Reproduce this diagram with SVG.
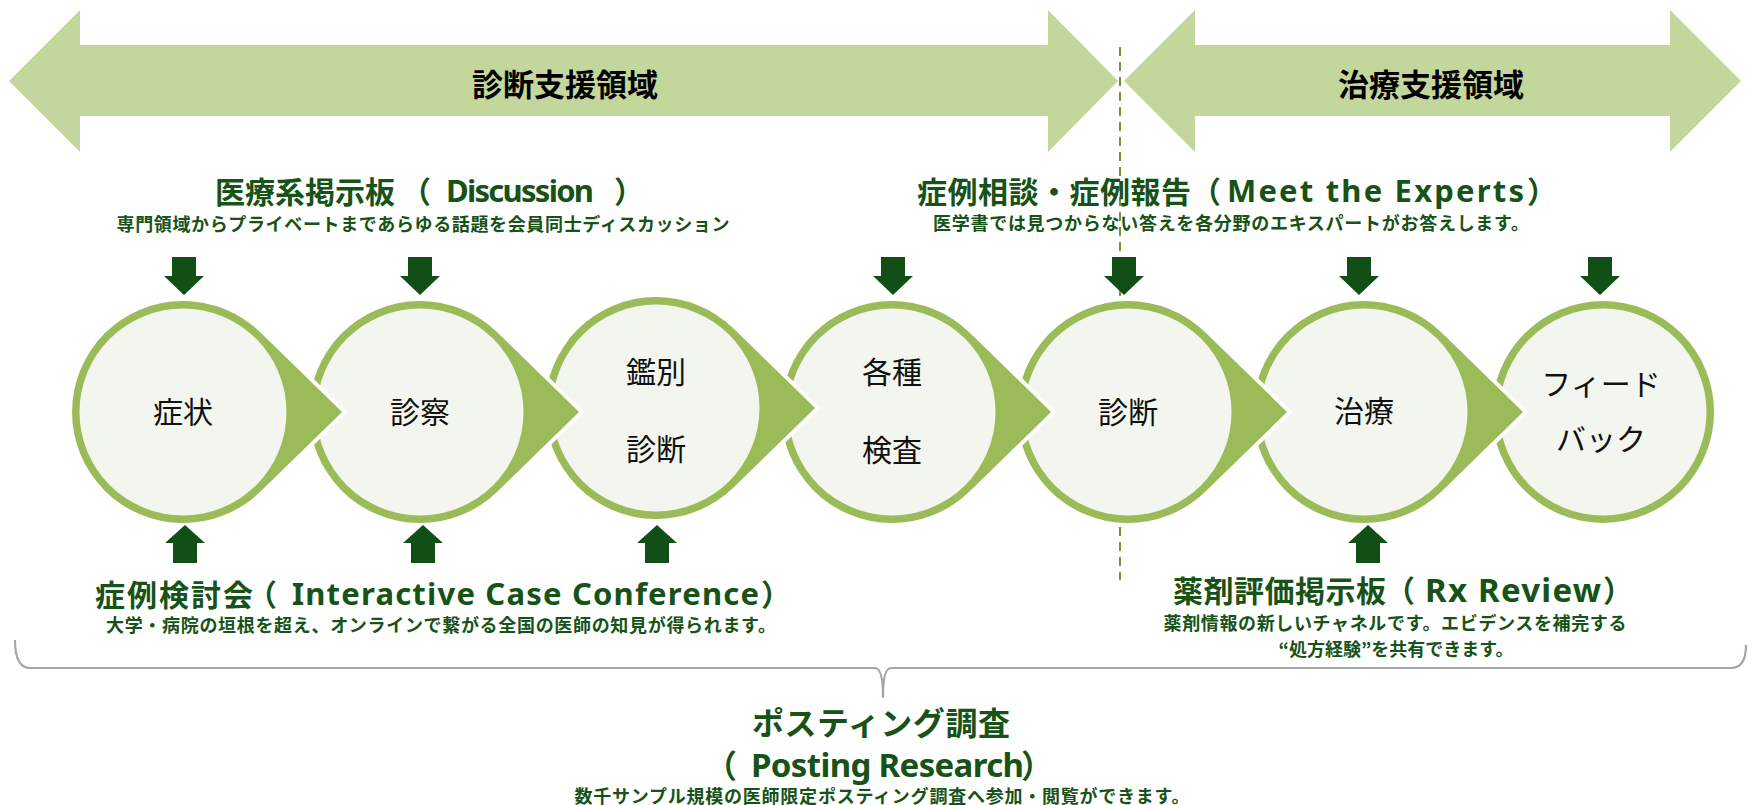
<svg xmlns="http://www.w3.org/2000/svg" width="1748" height="805" viewBox="0 0 1748 805">
<style>
.band{fill:#C3D69B}
.bandtxt{font-family:"Noto Sans CJK JP","Noto Sans",sans-serif;font-weight:bold;font-size:31px;fill:#000;text-anchor:middle;dominant-baseline:central}
.drop{fill:#9BBB59;stroke:#FFFFFF;stroke-width:8;paint-order:stroke;stroke-linejoin:miter}
.ring{fill:#9BBB59}
.inner{fill:#F3F6EE}
.ctxt{font-family:"Noto Sans CJK JP","Noto Sans",sans-serif;font-size:30px;fill:#111;text-anchor:middle;dominant-baseline:central}
.ttl{font-family:"Noto Sans CJK JP","Noto Sans",sans-serif;font-weight:bold;font-size:30px;fill:#175217;dominant-baseline:central}
.lat{font-family:"Noto Sans","Noto Sans CJK JP",sans-serif;font-size:31px}
.mid{text-anchor:middle}
.sub{font-family:"Noto Sans CJK JP","Noto Sans",sans-serif;font-weight:bold;font-size:18px;fill:#175217;text-anchor:middle;dominant-baseline:central}
.arr{fill:#124F16}
.dash{stroke:#76923C;stroke-width:2;stroke-dasharray:9 6;fill:none}
.brace{stroke:#A6A6A6;stroke-width:2.2;fill:none;stroke-linejoin:round}
</style>
<defs>
<path id="darr" d="M-12,0 H12 V19 H20 L0,38 L-20,19 H-12 Z"/>
<path id="uarr" d="M0,0 L20,18 H12 V38 H-12 V18 H-20 Z"/>
</defs>
<rect width="1748" height="805" fill="#FFFFFF"/>

<g id="band-diagnosis">
<polygon class="band" points="9,81 80,10 80,45 1048,45 1048,10 1118,81 1048,152 1048,116 80,116 80,152"/>
<text class="bandtxt" x="565" y="82">診断支援領域</text>
</g>
<g id="band-treatment">
<polygon class="band" points="1124,81 1195,10 1195,45 1670,45 1670,10 1741,81 1670,152 1670,116 1195,116 1195,152"/>
<text class="bandtxt" x="1431" y="82">治療支援領域</text>
</g>

<line id="divider" class="dash" x1="1120" y1="47" x2="1120" y2="580"/>

<g id="nodes">
<g id="node-feedback">
<circle class="ring" cx="1603" cy="412" r="111"/>
<circle class="inner" cx="1603" cy="412" r="103.5"/>
<text class="ctxt" x="1601" y="382">フィード</text>
<text class="ctxt" x="1601" y="437">バック</text>
</g>
<g id="node-treatment">
<path class="drop" d="M1523,412 L1441.5,332.5 A111,111 0 1 0 1441.5,491.5 Z"/>
<circle class="inner" cx="1364" cy="412" r="103.5"/>
<text class="ctxt" x="1364" y="409">治療</text>
</g>
<g id="node-diagnosis">
<path class="drop" d="M1287,412 L1205.5,332.5 A111,111 0 1 0 1205.5,491.5 Z"/>
<circle class="inner" cx="1128" cy="412" r="103.5"/>
<text class="ctxt" x="1128" y="410">診断</text>
</g>
<g id="node-tests">
<path class="drop" d="M1051,412 L969.5,332.5 A111,111 0 1 0 969.5,491.5 Z"/>
<circle class="inner" cx="892" cy="412" r="103.5"/>
<text class="ctxt" x="892" y="370">各種</text>
<text class="ctxt" x="892" y="448">検査</text>
</g>
<g id="node-differential">
<path class="drop" d="M815,408 L733.5,328.5 A111,111 0 1 0 733.5,487.5 Z"/>
<circle class="inner" cx="656" cy="408" r="103.5"/>
<text class="ctxt" x="656" y="370">鑑別</text>
<text class="ctxt" x="656" y="447">診断</text>
</g>
<g id="node-exam">
<path class="drop" d="M579,412 L497.5,332.5 A111,111 0 1 0 497.5,491.5 Z"/>
<circle class="inner" cx="420" cy="412" r="103.5"/>
<text class="ctxt" x="420" y="410">診察</text>
</g>
<g id="node-symptom">
<path class="drop" d="M342,412 L260.5,332.5 A111,111 0 1 0 260.5,491.5 Z"/>
<circle class="inner" cx="183" cy="412" r="103.5"/>
<text class="ctxt" x="183" y="410">症状</text>
</g>
</g>

<g id="connectors">
<use href="#darr" class="arr" x="184" y="257"/>
<use href="#darr" class="arr" x="420" y="257"/>
<use href="#darr" class="arr" x="893" y="257"/>
<use href="#darr" class="arr" x="1124" y="257"/>
<use href="#darr" class="arr" x="1359" y="257"/>
<use href="#darr" class="arr" x="1600" y="257"/>
<use href="#uarr" class="arr" x="185" y="525"/>
<use href="#uarr" class="arr" x="423" y="525"/>
<use href="#uarr" class="arr" x="657" y="525"/>
<use href="#uarr" class="arr" x="1368" y="525"/>
<path class="brace" d="M15,640 Q15,668 30,668 L875,668 Q883,668 883,697 Q883,668 891,668 L1731,668 Q1746,668 1746,645"/>
</g>

<g id="label-discussion">
<text class="ttl" y="190"><tspan x="215">医療系掲示板</tspan><tspan x="401">（</tspan><tspan class="lat" x="446" textLength="148">Discussion</tspan><tspan x="614">）</tspan></text>
<text class="sub" x="423" y="223" textLength="613">専門領域からプライベートまであらゆる話題を会員同士ディスカッション</text>
</g>
<g id="label-experts">
<text class="ttl" y="190"><tspan x="917" textLength="274">症例相談・症例報告</tspan><tspan x="1191">（</tspan><tspan class="lat" x="1227" textLength="297">Meet the Experts</tspan><tspan x="1527">）</tspan></text>
<text class="sub" x="1231" y="222" textLength="596">医学書では見つからない答えを各分野のエキスパートがお答えします。</text>
</g>
<g id="label-conference">
<text class="ttl" y="593"><tspan x="95" textLength="158">症例検討会</tspan><tspan x="247">（</tspan><tspan class="lat" x="292" textLength="467">Interactive Case Conference</tspan><tspan x="761">）</tspan></text>
<text class="sub" x="441" y="624" textLength="670">大学・病院の垣根を超え、オンラインで繋がる全国の医師の知見が得られます。</text>
</g>
<g id="label-rx">
<text class="ttl" y="589"><tspan x="1173" textLength="213">薬剤評価掲示板</tspan><tspan x="1385">（</tspan><tspan class="lat" x="1425" textLength="176" style="font-size:33px">Rx Review</tspan><tspan x="1603">）</tspan></text>
<text class="sub" x="1395" y="622" textLength="463">薬剤情報の新しいチャネルです。エビデンスを補完する</text>
<text class="sub" x="1396" y="648">“処方経験”を共有できます。</text>
</g>
<g id="label-posting">
<text class="ttl mid" x="881" y="721" style="font-size:32px" textLength="258">ポスティング調査</text>
<text class="ttl" y="764" style="font-size:32px"><tspan x="705">（</tspan><tspan class="lat" x="751" textLength="273" style="font-size:33px">Posting Research</tspan><tspan x="1021">）</tspan></text>
<text class="sub" x="882" y="795" textLength="615">数千サンプル規模の医師限定ポスティング調査へ参加・閲覧ができます。</text>
</g>
</svg>
